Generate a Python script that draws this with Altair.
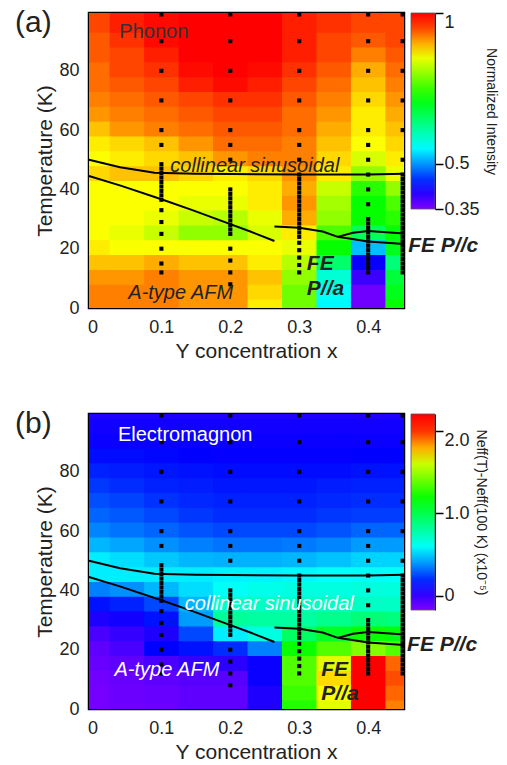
import altair as alt
import pandas as pd

FONT = "Liberation Sans"

# ---------------- data ----------------
X_GRID = [0.0, 0.05, 0.10, 0.15, 0.20, 0.25, 0.30, 0.35, 0.40, 0.45]
T_GRID = [100, 95, 90, 85, 80, 75, 70, 65, 60, 55, 50, 45, 40, 35, 30, 25, 20, 15, 10, 5, 0]

# (a) Phonon normalized intensity, rows follow T_GRID, columns follow X_GRID
PHONON = [
    [0.95, 0.97, 0.98, 0.99, 1.00, 0.99, 0.97, 0.96, 0.95, 0.95],
    [0.95, 0.97, 0.98, 0.99, 1.00, 0.99, 0.97, 0.96, 0.95, 0.95],
    [0.94, 0.96, 0.98, 0.99, 1.00, 0.99, 0.97, 0.95, 0.94, 0.95],
    [0.94, 0.95, 0.97, 0.99, 1.00, 0.99, 0.97, 0.95, 0.92, 0.94],
    [0.93, 0.95, 0.96, 0.98, 0.99, 0.98, 0.96, 0.94, 0.90, 0.93],
    [0.93, 0.94, 0.95, 0.97, 0.98, 0.97, 0.95, 0.93, 0.89, 0.92],
    [0.92, 0.93, 0.94, 0.95, 0.96, 0.96, 0.94, 0.92, 0.88, 0.91],
    [0.91, 0.92, 0.93, 0.94, 0.95, 0.95, 0.93, 0.91, 0.87, 0.90],
    [0.89, 0.91, 0.92, 0.93, 0.94, 0.94, 0.93, 0.90, 0.87, 0.89],
    [0.87, 0.88, 0.89, 0.91, 0.93, 0.93, 0.92, 0.89, 0.86, 0.88],
    [0.86, 0.87, 0.88, 0.89, 0.91, 0.92, 0.92, 0.88, 0.84, 0.87],
    [0.88, 0.89, 0.89, 0.88, 0.87, 0.88, 0.91, 0.87, 0.80, 0.85],
    [0.86, 0.86, 0.86, 0.86, 0.86, 0.87, 0.90, 0.83, 0.74, 0.80],
    [0.86, 0.86, 0.86, 0.85, 0.85, 0.87, 0.91, 0.81, 0.72, 0.76],
    [0.86, 0.86, 0.85, 0.83, 0.82, 0.85, 0.90, 0.80, 0.72, 0.74],
    [0.86, 0.85, 0.83, 0.80, 0.80, 0.84, 0.87, 0.76, 0.66, 0.72],
    [0.87, 0.86, 0.86, 0.86, 0.86, 0.86, 0.85, 0.72, 0.52, 0.70],
    [0.89, 0.89, 0.90, 0.89, 0.89, 0.87, 0.82, 0.65, 0.42, 0.64],
    [0.91, 0.91, 0.92, 0.91, 0.91, 0.89, 0.80, 0.58, 0.39, 0.68],
    [0.92, 0.92, 0.92, 0.91, 0.91, 0.88, 0.78, 0.56, 0.36, 0.70],
    [0.92, 0.92, 0.92, 0.91, 0.91, 0.87, 0.78, 0.55, 0.36, 0.72],
]

# (b) Electromagnon Neff(T)-Neff(100 K) in 1e-5
EMAG = [
    [0.05, 0.05, 0.05, 0.05, 0.05, 0.05, 0.05, 0.05, 0.05, 0.05],
    [0.08, 0.08, 0.08, 0.08, 0.08, 0.08, 0.08, 0.08, 0.08, 0.08],
    [0.10, 0.10, 0.10, 0.10, 0.10, 0.10, 0.10, 0.10, 0.10, 0.10],
    [0.14, 0.14, 0.13, 0.12, 0.11, 0.11, 0.11, 0.11, 0.12, 0.12],
    [0.18, 0.17, 0.16, 0.15, 0.14, 0.14, 0.14, 0.14, 0.15, 0.15],
    [0.22, 0.20, 0.18, 0.17, 0.16, 0.16, 0.16, 0.17, 0.18, 0.18],
    [0.26, 0.24, 0.21, 0.19, 0.18, 0.18, 0.18, 0.19, 0.20, 0.20],
    [0.30, 0.28, 0.25, 0.22, 0.20, 0.20, 0.20, 0.22, 0.23, 0.23],
    [0.36, 0.33, 0.30, 0.27, 0.25, 0.25, 0.25, 0.27, 0.30, 0.30],
    [0.45, 0.42, 0.38, 0.35, 0.33, 0.33, 0.34, 0.36, 0.40, 0.40],
    [0.55, 0.52, 0.48, 0.45, 0.44, 0.44, 0.45, 0.47, 0.50, 0.50],
    [0.55, 0.55, 0.55, 0.55, 0.56, 0.56, 0.57, 0.58, 0.60, 0.60],
    [0.35, 0.38, 0.45, 0.52, 0.60, 0.63, 0.65, 0.65, 0.66, 0.66],
    [0.15, 0.18, 0.25, 0.45, 0.70, 0.72, 0.72, 0.72, 0.72, 0.72],
    [0.05, 0.08, 0.15, 0.40, 0.82, 0.80, 0.80, 0.85, 0.90, 0.88],
    [-0.05, 0.00, 0.05, 0.25, 0.55, 0.65, 0.95, 1.10, 1.20, 1.15],
    [-0.10, -0.05, 0.12, 0.15, 0.20, 0.35, 1.20, 1.35, 1.45, 1.35],
    [-0.12, -0.10, -0.05, 0.00, 0.02, 0.10, 1.35, 1.65, 2.10, 1.90],
    [-0.14, -0.12, -0.10, -0.08, -0.08, 0.10, 1.35, 1.75, 2.20, 1.95],
    [-0.15, -0.13, -0.12, -0.10, -0.10, 0.05, 1.30, 1.70, 2.15, 1.90],
    [-0.15, -0.13, -0.12, -0.10, -0.10, 0.05, 1.25, 1.65, 2.10, 1.85],
]

# measurement temperatures at each Y concentration (dotted columns)
PTS_X010 = [99, 90, 80, 70, 60, 55, 48.5, 47, 45.5, 44, 42.5, 41, 39.5, 38, 36.5,
            33, 29, 25, 20, 15, 12]
PTS_X020 = [99, 90, 80, 70, 60, 55, 50, 40, 38.5, 37, 35.5, 34, 32.5, 31, 29.5, 28,
            26.5, 25, 20, 16, 12, 8]
PTS_X030 = [99, 90, 80, 70, 60, 55, 50, 45, 43.5, 42, 40.5, 39, 37.5, 36, 34.5, 33,
            31.5, 30, 28.5, 27, 25.5, 24, 22, 19.5, 17, 14.5, 12]
PTS_X040 = [99, 90, 80, 70, 60, 55, 50, 45, 40, 35, 30, 28.5, 27, 25.5, 24, 22.5, 21,
            19.5, 18, 16.5, 15, 13.5, 12]
PTS_X045 = [99, 90, 80, 70, 60, 50, 45, 43.5, 42, 40.5, 39, 37.5, 36, 34.5, 33, 31.5,
            30, 28.5, 27, 25.5, 24, 22.5, 21, 19.5, 18, 16.5, 15, 13.5, 12]
PTS_XPOS = [0.10, 0.20, 0.30, 0.40, 0.45]

# phase boundaries
TN_X = [-0.005, 0.04, 0.09, 0.15, 0.20, 0.30, 0.40, 0.452]
TN_T = [50.0, 47.5, 45.6, 45.3, 45.2, 45.0, 45.0, 45.3]
AFM_X = [-0.005, 0.042, 0.10, 0.145, 0.20, 0.229, 0.264]
AFM_T = [44.5, 41.2, 36.7, 33.0, 28.3, 25.8, 22.6]
FE_X = [0.264, 0.30, 0.334, 0.356, 0.40, 0.452]
FE_T = [27.5, 27.1, 25.8, 24.0, 22.4, 21.6]
FEC_X = [0.356, 0.378, 0.40, 0.452]
FEC_T = [24.0, 25.4, 26.0, 25.1]

# colour maps
CMAP_COLORS = ["#8000ff", "#0000ff", "#00ffff", "#00ff00", "#ffff00", "#ff8000",
               "#ff0000", "#ff0000"]
CMAP_A = [0.35, 0.424, 0.553, 0.717, 0.862, 0.92, 0.985, 1.0]
CMAP_B = [-0.175, 0.12, 0.58, 1.18, 1.71, 1.85, 2.10, 2.21]
CB_A_DOMAIN = [0.35, 1.0]
CB_B_DOMAIN = [-0.175, 2.21]
CB_A_TICKS = [0.35, 0.5, 1.0]
CB_B_TICKS = [0.0, 1.0, 2.0]

# annotations
TXT_A_PLAIN = (["Phonon"], [0.039], [91.0])
TXT_A_ITAL = (["collinear sinusoidal", "A-type AFM"], [0.113, 0.052], [46.0, 2.9])
TXT_A_BOLD = (["FE", "P//a", "FE P//c"], [0.311, 0.311, 0.458], [12.8, 4.4, 18.9])
TXT_B_PLAIN = (["Electromagnon"], [0.037], [90.4])
TXT_B_ITAL = (["collinear sinusoidal", "A-type AFM"], [0.134, 0.032], [33.5, 11.0])
TXT_B_BOLD = (["FE", "P//a", "FE P//c"], [0.332, 0.332, 0.4565], [11.0, 3.1, 19.7])

# ---------------- layout constants ----------------
W, H = 315, 295
X_DOM = [-0.005, 0.452]
T_DOM = [0, 99.5]
CB_LEN = 196
CB_X = 322
CB_W = 24
X_OVERLAP = 0.0016   # ~1 px overlap between neighbouring cells (hides seams)
T_OVERLAP = 0.35


def edges(centers, lo, hi):
    c = sorted(centers)
    mids = [(a + b) / 2 for a, b in zip(c[:-1], c[1:])]
    return dict(zip(c, zip([lo] + mids, mids + [hi])))


XE = edges(X_GRID, X_DOM[0], X_DOM[1])
TE = edges(T_GRID, T_DOM[0], T_DOM[1])


def grid_df(values):
    rows = []
    for i, t in enumerate(T_GRID):
        for j, x in enumerate(X_GRID):
            rows.append(dict(x0=XE[x][0], x1=min(XE[x][1] + X_OVERLAP, X_DOM[1]),
                             t0=TE[t][0], t1=min(TE[t][1] + T_OVERLAP, T_DOM[1]),
                             v=values[i][j]))
    return pd.DataFrame(rows)


pts_rows = []
for xp, lst in zip(PTS_XPOS, [PTS_X010, PTS_X020, PTS_X030, PTS_X040, PTS_X045]):
    for t in lst:
        pts_rows.append(dict(x=xp, T=t))
PTS_DF = pd.DataFrame(pts_rows)

line_rows = []
for name, xs_, ts in [("tn", TN_X, TN_T), ("afm", AFM_X, AFM_T), ("fe", FE_X, FE_T), ("fec", FEC_X, FEC_T)]:
    for k, (a, b) in enumerate(zip(xs_, ts)):
        line_rows.append(dict(seg=name, k=k, x=a, T=b))
LINE_DF = pd.DataFrame(line_rows)


def txt_df(t):
    return pd.DataFrame(dict(label=t[0], x=t[1], T=t[2]))


def xs():
    return alt.Scale(domain=X_DOM, nice=False, zero=False)


def ys():
    return alt.Scale(domain=T_DOM, nice=False, zero=False)


def panel(values, cmap, cb_dom, cb_ticks, cb_fmt_expr, cb_title, tag, tplain, tital, tbold,
          plain_color, ital_color):
    cscale = alt.Scale(type="linear", domain=cmap, range=CMAP_COLORS, interpolate="rgb")
    heat = alt.Chart(grid_df(values)).mark_rect().encode(
        x=alt.X("x0:Q", scale=xs(), axis=alt.Axis(
            orient="bottom", values=[0, 0.1, 0.2, 0.3, 0.4], format="~g", ticks=False, tickSize=0,
            domain=False, grid=False, labelFontSize=18, labelPadding=10, labelColor="#222",
            labelFont=FONT, title="Y concentration x", titleFontSize=21, titleFont=FONT,
            titleFontWeight="normal", titleColor="#222", titlePadding=4, titleX=167)),
        x2="x1:Q",
        y=alt.Y("t0:Q", scale=ys(), axis=alt.Axis(
            orient="left", values=[0, 20, 40, 60, 80], ticks=False, tickSize=0, domain=False,
            grid=False, labelFontSize=18, labelPadding=10, labelColor="#222", labelFont=FONT,
            title="Temperature (K)", titleFontSize=21, titleFont=FONT, titleFontWeight="normal",
            titleColor="#222", titlePadding=3)),
        y2="t1:Q",
        color=alt.Color("v:Q", scale=cscale, legend=alt.Legend(
            type="gradient", orient="none", legendX=CB_X, legendY=0, direction="vertical",
            gradientLength=CB_LEN, gradientThickness=CB_W, title=None, labelExpr="''",
            padding=0, gradientStrokeColor="#555", gradientStrokeWidth=0.8)),
    )

    pts = alt.Chart(PTS_DF).mark_square(size=17, color="black", opacity=1).encode(
        x=alt.X("x:Q", scale=xs(), axis=alt.Axis(
            orient="bottom", offset=-5, tickSize=5, tickWidth=1.5, tickColor="black",
            values=[0.05, 0.1, 0.15, 0.2, 0.25, 0.3, 0.35, 0.4], labels=False, domain=False,
            grid=False, title=None)),
        y=alt.Y("T:Q", scale=ys(), axis=alt.Axis(
            orient="left", offset=-18, tickSize=18, tickWidth=2, tickColor="black",
            values=[10, 20, 30, 40, 50, 60, 70, 80, 90], labels=False, domain=False,
            grid=False, title=None)),
    )

    lines = alt.Chart(LINE_DF).mark_line(color="black", strokeWidth=2).encode(
        x=alt.X("x:Q", scale=xs(), axis=None),
        y=alt.Y("T:Q", scale=ys(), axis=alt.Axis(
            orient="right", offset=-17, tickSize=17, tickWidth=2, tickColor="black",
            values=[10, 20, 30, 40, 50, 60, 70, 80, 90], labels=False, domain=False,
            grid=False, title=None)),
        detail="seg:N",
        order="k:Q",
    )

    def tl(t, color, style, weight, size):
        return alt.Chart(txt_df(t)).mark_text(
            align="left", baseline="alphabetic", font=FONT, fontSize=size, fontStyle=style,
            fontWeight=weight, color=color).encode(
            x=alt.X("x:Q", scale=xs(), axis=None),
            y=alt.Y("T:Q", scale=ys(), axis=None),
            text="label:N")

    t1 = tl(tplain, plain_color, "normal", "normal", 20)
    t2 = tl(tital, ital_color, "italic", "normal", 20)
    t3 = tl(tbold, "#222", "italic", "bold", 21)

    tagl = alt.Chart(pd.DataFrame(dict(label=[tag]))).mark_text(
        align="left", baseline="top", font=FONT, fontSize=30, color="#222").encode(
        x=alt.value(-74), y=alt.value(-5), text="label:N")

    cb_axis_kw = dict(orient="right", offset=CB_X + CB_W - W, values=cb_ticks, tickSize=8,
                      tickWidth=1.5, tickColor="black", domain=True, domainColor="black",
                      domainWidth=1, grid=False, labelFontSize=18, labelPadding=1,
                      labelColor="#222", labelFont=FONT,
                      labelBaseline=alt.condition(f"datum.value == {max(cb_ticks)}",
                                                  alt.value("top"), alt.value("middle")),
                      labelExpr=cb_fmt_expr,
                      title=cb_title, titleFont=FONT, titleFontSize=14,
                      titleFontWeight="normal", titleColor="#222", titleAngle=90,
                      titlePadding=4)
    cbax = alt.Chart(pd.DataFrame(dict(v=cb_ticks))).mark_point(opacity=0).encode(
        y=alt.Y("v:Q", scale=alt.Scale(domain=cb_dom, range=[CB_LEN, 0], nice=False, zero=False),
                axis=alt.Axis(**cb_axis_kw)),
        x=alt.value(0),
    )

    return alt.layer(heat, pts, lines, t1, t2, t3, tagl, cbax).resolve_scale(
        y="independent").resolve_axis(x="independent", y="independent").properties(
        width=W, height=H)


pa = panel(PHONON, CMAP_A, CB_A_DOMAIN, CB_A_TICKS, "format(datum.value, '.2~f')",
           "Normalized Intensity", "(a)",
           TXT_A_PLAIN, TXT_A_ITAL, TXT_A_BOLD, "#333", "#222")
pb = panel(EMAG, CMAP_B, CB_B_DOMAIN, CB_B_TICKS,
           "datum.value == 0 ? '0' : format(datum.value, '.1f')",
           "Neff(T)-Neff(100 K) (x10\u207b\u2075)", "(b)",
           TXT_B_PLAIN, TXT_B_ITAL, TXT_B_BOLD, "white", "white")

chart = alt.vconcat(pa, pb, spacing=44).resolve_scale(
    color="independent").properties(
    padding={"left": 13, "top": 6, "right": 5, "bottom": 5}).configure(
    font=FONT).configure_view(stroke="black", strokeWidth=2.5)

chart.save("out.html", embed_options={"renderer": "svg", "actions": False})
